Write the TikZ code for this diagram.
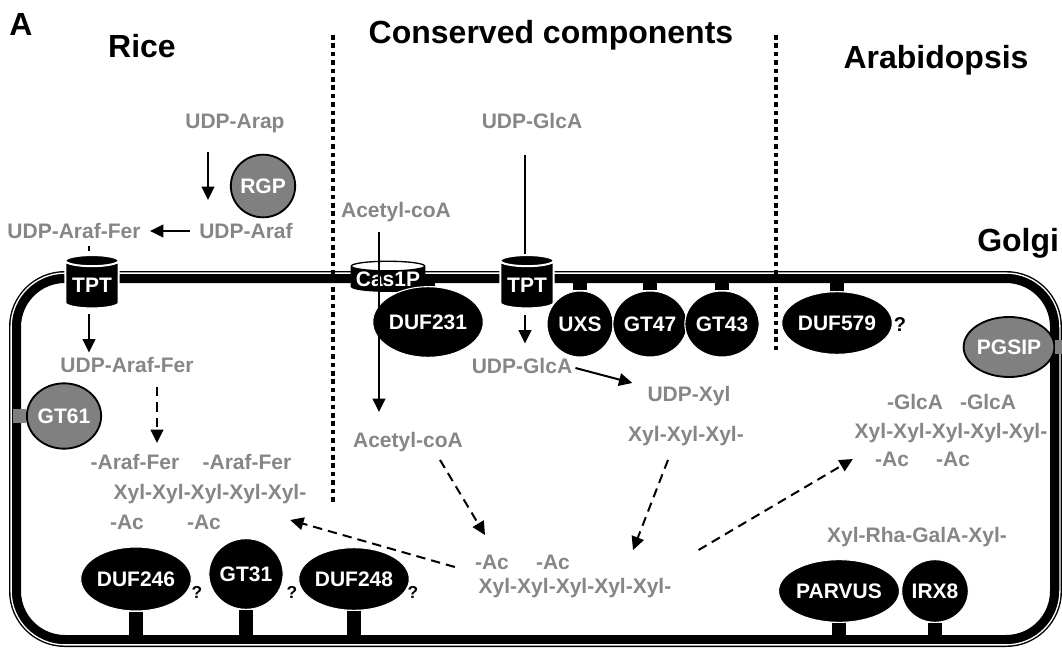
\documentclass[tikz,border=0pt]{standalone}
\usepackage{fontspec}
\setmainfont{Liberation Sans}
\usetikzlibrary{shapes.geometric,arrows.meta,calc}
\definecolor{sugargray}{RGB}{134,134,134}
\definecolor{protgray}{RGB}{128,128,128}
\tikzset{
  sugar/.style={text=sugargray, font=\bfseries\fontsize{15.75}{18}\selectfont, inner sep=0pt, text height=12pt, text depth=1pt},
  heading/.style={font=\bfseries\fontsize{24}{28}\selectfont, inner sep=0pt, text height=17.5pt, text depth=0pt},
  enzyme/.style={ellipse, fill=black, draw=white, line width=0.8pt, text=white, font=\bfseries\fontsize{15.75}{18}\selectfont, inner sep=0pt},
  hostgray/.style={ellipse, fill=protgray, draw=black, line width=1.4pt, text=white, font=\bfseries\fontsize{15.75}{18}\selectfont, inner sep=0pt},
  transporter/.style={cylinder, shape border rotate=90, aspect=0.28, fill=black, draw=white, line width=1.5pt, text=white, font=\bfseries\fontsize{15.75}{18}\selectfont, inner sep=0pt, minimum width=40pt, minimum height=40pt},
  cas/.style={cylinder, shape border rotate=90, aspect=0.15, cylinder uses custom fill, cylinder body fill=black, cylinder end fill=white, draw=black, line width=1pt, text=white, font=\bfseries\fontsize{15.75}{18}\selectfont, inner sep=0pt, minimum width=55pt, minimum height=21pt},
  query/.style={font=\bfseries\fontsize{13}{15}\selectfont, inner sep=0pt},
  arr/.style={-{Triangle[length=10pt,width=9.5pt]}, line width=1.5pt},
  dasharr/.style={arr, dash pattern=on 7pt off 4.5pt},
  stem/.style={line width=11pt},
  stub/.style={line width=11pt, protgray},
  divider/.style={line width=3.6pt, dash pattern=on 3.4pt off 2.9pt},
}
\begin{document}
\begin{tikzpicture}[x=0.75pt,y=-0.75pt]
\useasboundingbox (0,0) rectangle (1062,649);

% Golgi membrane
\draw[line width=9pt, rounded corners=37.5pt] (15,277) rectangle (1056,641);
\draw[white, line width=1pt, rounded corners=40.4pt] (11.1,273.1) rectangle (1059.9,644.9);
\coordinate (memtop) at (0,277);
\coordinate (membot) at (0,641);

% headings
\node[heading] (lbl) at (21,24) {A};
\node[heading] (rice) at (142,46) {Rice};
\node[heading] (cons) at (551,32) {Conserved components};
\node[heading] (arab) at (936,57) {Arabidopsis};
\node[heading, anchor=west] (golgi) at (977,240) {Golgi};

\draw[divider] (333,35) -- (333,505);
\draw[divider] (776,35) -- (776,352);

% rice
\node[sugar] (arap) at (235,121) {UDP-Arap};
\node[hostgray, minimum width=47pt, minimum height=47pt] (rgp) at (263,186) {RGP};
\node[sugar] (araf) at (246,231) {UDP-Araf};
\node[sugar] (afer1) at (74,231) {UDP-Araf-Fer};
\node[transporter] (tpt1) at (92,285) {TPT};
\node[sugar] (afer2) at (127,365) {UDP-Araf-Fer};
\node[hostgray, minimum width=49pt, minimum height=49pt] (gt61) at (64,416) {GT61};
\node[sugar] (araf1) at (135,462) {-Araf-Fer};
\node[sugar] (araf2) at (247,462) {-Araf-Fer};
\node[sugar] (xylL) at (210,492) {Xyl-Xyl-Xyl-Xyl-Xyl-};
\node[sugar] (acL1) at (127,522) {-Ac};
\node[sugar] (acL2) at (204,522) {-Ac};
\node[enzyme, minimum width=66pt, minimum height=48pt] (duf246) at (136,579) {DUF246};
\node[enzyme, minimum width=50pt, minimum height=53pt] (gt31) at (246,574) {GT31};
\node[enzyme, minimum width=73pt, minimum height=47pt] (duf248) at (354,579) {DUF248};
\node[query] (q1) at (197,592) {?};
\node[query] (q2) at (292,592) {?};
\node[query] (q3) at (413,592) {?};

% conserved
\node[sugar] (acoa1) at (396,210) {Acetyl-coA};
\node[cas] (cas1p) at (388,279) {Cas1P};
\node[enzyme, minimum width=64pt, minimum height=53pt] (duf231) at (428,322) {DUF231};
\node[sugar] (acoa2) at (408,440) {Acetyl-coA};
\node[sugar] (glca1) at (532,121) {UDP-GlcA};
\node[transporter] (tpt2) at (527,285) {TPT};
\node[enzyme, minimum width=49.5pt, minimum height=49.5pt] (uxs) at (580,324) {UXS};
\node[enzyme, minimum width=49.5pt, minimum height=49.5pt] (gt47) at (650,324) {GT47};
\node[enzyme, minimum width=49.5pt, minimum height=49.5pt] (gt43) at (722,324) {GT43};
\node[sugar] (glca2) at (522,366) {UDP-GlcA};
\node[sugar] (udpxyl) at (689,394) {UDP-Xyl};
\node[sugar] (xyl3) at (686,434) {Xyl-Xyl-Xyl-};
\node[sugar] (acB1) at (492,562) {-Ac};
\node[sugar] (acB2) at (553,562) {-Ac};
\node[sugar] (xylB) at (575,586) {Xyl-Xyl-Xyl-Xyl-Xyl-};

% arabidopsis
\node[enzyme, minimum width=71pt, minimum height=47pt] (duf579) at (837,323) {DUF579};
\node[query, font=\bfseries\fontsize{15}{18}\selectfont] (q4) at (900,325) {?};
\node[hostgray, minimum width=54pt, minimum height=45pt] (pgsip) at (1009,347) {PGSIP};
\node[sugar] (glcR1) at (915,402) {-GlcA};
\node[sugar] (glcR2) at (988,402) {-GlcA};
\node[sugar] (xylR) at (951,431) {Xyl-Xyl-Xyl-Xyl-Xyl-};
\node[sugar] (acR1) at (892,459) {-Ac};
\node[sugar] (acR2) at (953,459) {-Ac};
\node[sugar] (rga) at (917,535) {Xyl-Rha-GalA-Xyl-};
\node[enzyme, minimum width=73.5pt, minimum height=47pt] (parvus) at (839,591) {PARVUS};
\node[enzyme, minimum width=50pt, minimum height=47pt] (irx8) at (935,591) {IRX8};

% anchoring stems
\draw[stem] (duf231.north) -- (duf231.north |- memtop);
\draw[stem] (uxs.north) -- (uxs.north |- memtop);
\draw[stem] (gt47.north) -- (gt47.north |- memtop);
\draw[stem] (gt43.north) -- (gt43.north |- memtop);
\draw[stem] (duf579.north) -- (duf579.north |- memtop);
\draw[stem] (duf246.south) -- (duf246.south |- membot);
\draw[stem] (gt31.south) -- (gt31.south |- membot);
\draw[stem] (duf248.south) -- (duf248.south |- membot);
\draw[stem] (parvus.south) -- (parvus.south |- membot);
\draw[stem] (irx8.south) -- (irx8.south |- membot);
\draw[stub] (gt61.west) -- ++(-13,0);
\draw[stub] (pgsip.east) -- ++(20,0);

% reactions
\draw[arr] ($(arap.south)+(-27,22)$) -- ++(0,48);
\draw[arr, shorten <=7pt, shorten >=7pt] (araf) -- (afer1);
\draw[line width=1.5pt] ($(tpt1.north)+(-3,-3)$) -- ++(0,-5);
\draw[arr] ($(tpt1.south)+(-3,5)$) -- ++(0,38);
\draw[dasharr] ($(afer2.south)+(30,13)$) -- ++(0,56);
\draw[arr] ($(acoa1.south)+(-17,13)$) -- ++(0,180);
\draw[line width=1.5pt] ($(tpt2.north |- glca1.south)+(-2,25)$) -- ($(tpt2.north)+(-2,0)$);
\draw[arr] ($(tpt2.south)+(-2,6)$) -- ++(0,28);
\draw[arr] ($(glca2.east)+(3,2)$) -- ($(udpxyl.west)+(-15,-11)$);
\draw[dasharr] ($(acoa2.south)+(32,11)$) -- ($(acB1.north)+(-7,-18)$);
\draw[dasharr] ($(xyl3.south)+(-18,17)$) -- ($(xylB.north)+(58,-27)$);
\draw[dasharr] ($(acB1.west)+(-20,5)$) -- ($(acL2.east)+(69,-2)$);
\draw[dasharr] ($(xylB.east)+(27,-36)$) -- ($(acR1.west)+(-22,0)$);
\end{tikzpicture}
\end{document}
